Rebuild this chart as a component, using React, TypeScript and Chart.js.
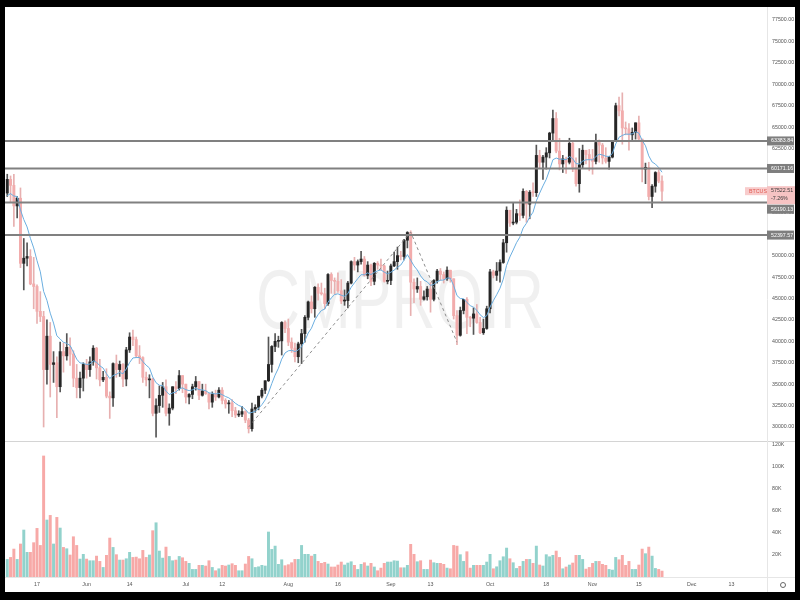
import React, { useEffect, useRef } from 'react';
import { Chart, registerables } from 'chart.js';

Chart.register(...registerables);

// Daily BTCUSD candles, day 0 = 8 May 2021 ... day 198 = 22 Nov 2021
const opens = [
  57300, 58900, 58200, 55800, 56700, 49100, 49700, 49900, 46700, 46400,
  43500, 42900, 36700, 40600, 37300, 37500, 34700, 38800, 38300, 39300,
  38500, 35700, 34600, 35700, 37300, 36700, 37600, 39200, 36900, 35500,
  35800, 33600, 33400, 37400, 36700, 37300, 35600, 39000, 40500, 40200,
  38300, 38100, 35800, 35500, 35600, 31600, 32500, 33700, 34700, 31600,
  32200, 34700, 34500, 36000, 35000, 33500, 33800, 34700, 35300, 33700,
  34200, 33900, 32900, 33800, 33500, 34300, 33100, 32700, 32800, 31900,
  31400, 31500, 31800, 30800, 29800, 32100, 32300, 33600, 34300, 35400,
  37300, 39400, 40000, 40050, 42200, 41500, 39900, 39200, 38200, 39700,
  40900, 42800, 44600, 43800, 46300, 45600, 45550, 44400, 47800, 47100,
  47000, 45900, 44700, 44750, 46800, 49300, 48900, 49300, 49600, 47700,
  48900, 47000, 49100, 48900, 48800, 47000, 47100, 48800, 49300, 50000,
  49900, 51800, 52700, 46900, 46100, 46400, 44900, 45200, 46100, 44900,
  47100, 48200, 47800, 47300, 48300, 47300, 43000, 40700, 43600, 44900,
  42800, 42700, 43200, 42200, 41000, 41500, 43800, 48100, 47700, 48200,
  49200, 51500, 55300, 53800, 53900, 54900, 54700, 57500, 56000, 57400,
  57350, 61700, 60900, 61500, 62000, 64300, 66000, 62200, 60700, 61300,
  60900, 63100, 60300, 58400, 60600, 62300, 61800, 61300, 61000, 63200,
  62900, 61400, 61000, 61500, 63300, 67500, 66900, 64900, 64800, 64100,
  64400, 65500, 63600, 60100, 60300, 56900, 58100, 59700, 58700,
];
const highs = [
  59500, 59300, 59500, 56900, 57900, 52000, 51500, 50700, 49800, 46600,
  45800, 43500, 42500, 42200, 38800, 38200, 39900, 39800, 40900, 40400,
  38900, 37300, 36400, 37500, 37900, 38200, 39500, 39300, 37900, 36500,
  36800, 34100, 37500, 38400, 37700, 37400, 39300, 41000, 41300, 40500,
  39500, 38200, 36400, 36100, 35700, 33300, 34800, 35200, 35500, 32700,
  34700, 35300, 36600, 36000, 35000, 33900, 35000, 35900, 35300, 35000,
  35000, 33900, 34100, 34300, 34600, 34600, 33300, 33100, 33200, 32300,
  31900, 32400, 31900, 31000, 32800, 32600, 33600, 34500, 35400, 40500,
  39500, 40900, 40600, 42300, 42400, 42600, 40400, 39800, 39900, 41400,
  43000, 44700, 45300, 46400, 46700, 46800, 46200, 47900, 48000, 47400,
  48000, 47200, 46000, 47000, 49400, 49800, 49500, 50500, 49900, 49300,
  49000, 49200, 49300, 49600, 48900, 48200, 49000, 50400, 51000, 50500,
  51900, 52800, 52900, 47300, 47400, 47000, 45900, 46400, 46900, 47200,
  48400, 48500, 48100, 48700, 48300, 47300, 43600, 44000, 44900, 45100,
  42900, 43900, 44300, 42800, 42600, 44100, 48400, 48300, 49200, 49500,
  51900, 55700, 55300, 56100, 55400, 56500, 57800, 57600, 57600, 58500,
  62900, 62300, 61700, 62600, 64400, 67000, 66700, 63700, 61700, 61500,
  63700, 63300, 61400, 62500, 62900, 62300, 62400, 62400, 64200, 63500,
  63100, 62600, 61600, 63300, 67800, 68500, 69000, 65600, 65400, 64900,
  65500, 66300, 63600, 60800, 60900, 58300, 59800, 60000, 59300,
];
const lows = [
  56900, 56200, 53400, 54400, 48600, 46000, 48800, 46600, 43800, 42100,
  42300, 30000, 35000, 33500, 35200, 31100, 34100, 36400, 37800, 37200,
  34700, 33400, 33400, 34200, 35700, 35900, 37200, 35600, 34800, 35300,
  33400, 31000, 32400, 35800, 35900, 34700, 34800, 38700, 39500, 38100,
  37400, 35200, 34800, 33400, 31300, 28800, 31700, 32300, 31300, 30200,
  32000, 33900, 34300, 34000, 32800, 32700, 33300, 34300, 33200, 33600,
  33800, 32100, 32300, 33100, 33400, 32700, 32200, 31600, 31200, 31100,
  31200, 31200, 30500, 29300, 29500, 31700, 32000, 33400, 33900, 35300,
  36400, 38800, 39300, 38400, 41000, 39500, 38700, 37600, 37500, 37400,
  39900, 42500, 43300, 42800, 44800, 45400, 43800, 44200, 45600, 45500,
  45700, 44400, 44200, 43900, 46700, 48300, 48100, 49000, 47600, 47300,
  46500, 46600, 48400, 48300, 46900, 46700, 46600, 48700, 48400, 49500,
  49500, 50900, 43000, 44500, 45700, 44200, 44800, 44800, 43400, 44700,
  46800, 47100, 46800, 47100, 46900, 42600, 39600, 40600, 43200, 40900,
  41700, 40800, 42100, 40900, 40800, 41400, 43300, 47400, 47100, 46900,
  49100, 50400, 53400, 53600, 53700, 54100, 54400, 53900, 54300, 56900,
  56900, 60200, 58900, 60100, 61400, 63500, 62000, 60000, 59700, 59600,
  60700, 59800, 58100, 57400, 60200, 60700, 59900, 59500, 60700, 60900,
  60700, 60800, 60100, 61400, 63300, 66300, 63000, 64100, 62300, 63400,
  63600, 63500, 58600, 58400, 56500, 55600, 57400, 58500, 56400,
];
const closes = [
  58900, 58200, 55800, 56700, 49100, 49700, 49900, 46700, 46400, 43500,
  42900, 36700, 40600, 37300, 37500, 34700, 38800, 38300, 39300, 38500,
  35700, 34600, 35700, 37300, 36700, 37600, 39200, 36900, 35500, 35800,
  33600, 33400, 37400, 36700, 37300, 35600, 39000, 40500, 40200, 38300,
  38100, 35800, 35500, 35600, 31600, 32500, 33700, 34700, 31600, 32200,
  34700, 34500, 36000, 35000, 33500, 33800, 34700, 35300, 33700, 34200,
  33900, 32900, 33800, 33500, 34300, 33100, 32700, 32800, 31900, 31400,
  31500, 31800, 30800, 29800, 32100, 32300, 33600, 34300, 35400, 37300,
  39400, 40000, 40050, 42200, 41500, 39900, 39200, 38200, 39700, 40900,
  42800, 44600, 43800, 46300, 45600, 45550, 44400, 47800, 47100, 47000,
  45900, 44700, 44750, 46800, 49300, 48900, 49300, 49600, 47700, 48900,
  47000, 49100, 48900, 48800, 47000, 47100, 48800, 49300, 50000, 49900,
  51800, 52700, 46900, 46100, 46400, 44900, 45200, 46100, 44900, 47100,
  48200, 47800, 47300, 48300, 47300, 43000, 40700, 43600, 44900, 42800,
  42700, 43200, 42200, 41000, 41500, 43800, 48100, 47700, 48200, 49200,
  51500, 55300, 53800, 53900, 54900, 54700, 57500, 56000, 57400, 57350,
  61700, 60900, 61500, 62000, 64300, 66000, 62200, 60700, 61300, 60900,
  63100, 60300, 58400, 60600, 62300, 61800, 61300, 61000, 63200, 62900,
  61400, 61000, 61500, 63300, 67500, 66900, 64900, 64800, 64100, 64400,
  65500, 63600, 60100, 60300, 56900, 58100, 59700, 58700, 57522.51,
];
// Volume in thousands
const volumes = [
  16.0, 17.8, 25.4, 16.0, 30.0, 42.7, 22.4, 22.4, 31.2, 44.2,
  28.7, 110, 51.8, 56.0, 30.0, 54.2, 44.5, 26.9, 25.7, 20.0,
  36.6, 28.7, 16.3, 20.6, 16.3, 14.8, 14.8, 19.0, 14.2, 8.7,
  19.7, 35.4, 26.9, 20.3, 15.4, 15.4, 16.6, 22.4, 17.8, 18.1,
  16.6, 24.2, 17.8, 20.0, 42.1, 49.3, 23.6, 17.2, 27.2, 18.7,
  14.8, 15.4, 18.7, 17.5, 14.2, 12.4, 6.9, 6.9, 10.6, 10.6,
  10.0, 14.8, 8.7, 5.7, 7.5, 10.6, 10.0, 10.9, 12.1, 10.6,
  5.7, 5.7, 11.8, 18.7, 16.6, 8.7, 9.3, 10.6, 10.0, 40.9,
  25.1, 28.1, 11.5, 15.7, 10.3, 11.2, 13.0, 16.0, 16.0, 28.7,
  20.6, 20.6, 19.0, 20.6, 14.2, 12.4, 13.3, 11.8, 9.1, 9.1,
  10.9, 13.6, 10.9, 12.7, 13.9, 10.6, 6.9, 11.5, 13.0, 10.0,
  12.4, 9.1, 5.7, 8.1, 12.4, 13.6, 13.6, 14.8, 14.5,
  8.4, 8.4, 10.6, 29.7, 20.6, 13.9, 14.8, 6.9, 6.9, 15.4,
  13.0, 12.4, 12.4, 11.5, 8.1, 7.5, 28.7, 28.1, 20.3, 14.2,
  23.0, 8.1, 10.6, 10.6, 10.6, 10.6, 13.6, 20.6, 7.5, 9.3,
  14.8, 18.4, 26.3, 16.6, 13.0, 7.8, 9.7, 14.2, 16.0, 16.0,
  12.4, 28.1, 10.9, 10.0, 20.3, 18.4, 19.7, 23.6, 17.8, 7.5,
  9.1, 10.9, 12.7, 19.7, 19.7, 16.0, 7.2, 8.7, 12.4, 14.2,
  14.2, 11.5, 10.6, 6.9, 6.3, 17.8, 15.7, 19.7, 10.6, 14.2,
  6.9, 6.9, 10.9, 25.4, 21.2, 27.2, 19.0, 7.8, 6.9, 5.4,
];

const xTickDays = [9, 24, 37, 54, 65, 85, 100, 116, 128, 146, 163, 177, 191, 207, 219];
const xTickLabels = ['17', 'Jun', '14', 'Jul', '12', 'Aug', '16', 'Sep', '13', 'Oct', '18', 'Nov', '15', 'Dec', '13'];
const priceTicks = [30000, 32500, 35000, 37500, 40000, 42500, 45000, 47500, 50000, 52500, 55000, 57500, 60000, 62500, 65000, 67500, 70000, 72500, 75000, 77500];
const volumeTicks = [20, 40, 60, 80, 100, 120];
const levels = [63383.84, 60171.16, 56190.13, 52397.57];
const swingDays = [73, 122, 136];
const swingPrices = [30000, 52750, 39900];
const MA_PERIOD = 9;
const MA_SEED = 57000;
const SYMBOL = 'BTCUSD';
const LAST_PRICE = 57522.51;
const LAST_CHANGE = '-7.26%';
const WATERMARK = 'CMPROIR';

const X_MIN = -0.68;
const X_MAX = 229.75;
const P_MIN = 28366;
const P_MAX = 79017;
const V_MAX = 123.6;

const FONT = '"Liberation Sans", Arial, sans-serif';
const UP_BODY = '#262626';
const UP_WICK = '#555555';
const DN_BODY = '#f2acac';
const DN_WICK = '#e7b0b0';
const VOL_UP = '#92d2cc';
const VOL_DN = '#f7a9a7';

const days = closes.map((_, i) => i);
const isUp = closes.map((c, i) => c >= opens[i]);

const maValues: number[] = [];
closes.forEach((c, i) => {
  if (i === 0) maValues.push(MA_SEED);
  else {
    const prev = maValues[i - 1];
    maValues.push(prev + (c - prev) * (2 / (MA_PERIOD + 1)));
  }
});

function tag(ctx: any, x: number, top: number, w: number, h: number, bg: string, lines: string[], color: string, lineGap: number) {
  ctx.fillStyle = bg;
  ctx.fillRect(x, top, w, h);
  ctx.fillStyle = color;
  ctx.textBaseline = 'middle';
  ctx.textAlign = 'left';
  lines.forEach((t, i) => ctx.fillText(t, x + 4, top + 4.5 + i * lineGap));
}

const overlay = {
  id: 'overlay',
  beforeDatasetsDraw(chart: any) {
    const { ctx, chartArea } = chart;
    ctx.save();
    ctx.font = '84px ' + FONT;
    const w = ctx.measureText(WATERMARK).width;
    const sx = 288 / w;
    ctx.translate(chartArea.left + 395, 321);
    ctx.scale(sx, 1);
    ctx.fillStyle = 'rgba(0,0,0,0.06)';
    ctx.textAlign = 'center';
    ctx.textBaseline = 'alphabetic';
    ctx.fillText(WATERMARK, 0, 0);
    ctx.restore();
  },
  afterDraw(chart: any) {
    const { ctx, chartArea } = chart;
    const y = chart.scales.y;
    const yv = chart.scales.yv;
    const axisX = chartArea.right;
    ctx.save();
    ctx.strokeStyle = '#d4d4d4';
    ctx.lineWidth = 1;
    ctx.beginPath();
    ctx.moveTo(0, Math.round(yv.top) + 0.5);
    ctx.lineTo(chart.width, Math.round(yv.top) + 0.5);
    ctx.stroke();
    ctx.strokeStyle = '#e6e6e6';
    ctx.beginPath();
    ctx.moveTo(0, chartArea.bottom + 0.5);
    ctx.lineTo(chart.width, chartArea.bottom + 0.5);
    ctx.moveTo(axisX + 0.5, 0);
    ctx.lineTo(axisX + 0.5, chart.height);
    ctx.stroke();

    ctx.font = '5.3px ' + FONT;
    const py = y.getPixelForValue(LAST_PRICE);
    const boxTop = py - 5;
    const boxH = 18;
    tag(ctx, axisX - 22, py - 4, 22, 8, '#f8cccc', [SYMBOL], '#e0584f', 8);
    tag(ctx, axisX, boxTop, 28, boxH, '#f6c3c3', [LAST_PRICE.toFixed(2), LAST_CHANGE], '#3a3a3a', 8);

    levels.forEach((lv) => {
      let ly = y.getPixelForValue(lv);
      const h = 9;
      if (ly + h / 2 > boxTop && ly - h / 2 < boxTop + boxH) ly = boxTop + boxH + h / 2 + 0.5;
      tag(ctx, axisX, ly - h / 2, 27, h, '#7e7e7e', [lv.toFixed(2)], '#ffffff', 8);
    });

    ctx.strokeStyle = '#666';
    ctx.lineWidth = 1;
    ctx.beginPath();
    ctx.arc(axisX + 16, chartArea.bottom + 8, 2.5, 0, Math.PI * 2);
    ctx.stroke();
    ctx.restore();
  },
};

const noPadding = (s: any) => {
  s.paddingTop = 0;
  s.paddingBottom = 0;
  s.paddingLeft = 0;
  s.paddingRight = 0;
};

export default function App() {
  const ref = useRef<HTMLCanvasElement | null>(null);
  useEffect(() => {
    if (!ref.current) return;
    const tickFont = { family: FONT, size: 5.3 };
    const chart = new Chart(ref.current, {
      type: 'bar',
      data: {
        datasets: [
          ...levels.map((lv) => ({
            type: 'line' as const,
            yAxisID: 'y',
            data: [{ x: X_MIN, y: lv }, { x: X_MAX, y: lv }],
            borderColor: '#808080',
            borderWidth: 2,
            pointRadius: 0,
            order: 1,
          })),
          {
            type: 'line' as const,
            yAxisID: 'y',
            data: swingDays.map((d, i) => ({ x: d, y: swingPrices[i] })),
            borderColor: '#8c8c8c',
            borderWidth: 1,
            borderDash: [3, 3],
            pointRadius: 0,
            order: 2,
          },
          {
            type: 'line' as const,
            yAxisID: 'y',
            data: days.map((d) => ({ x: d, y: maValues[d] })),
            borderColor: '#6aaee0',
            borderWidth: 1,
            pointRadius: 0,
            tension: 0,
            order: 3,
          },
          {
            type: 'bar' as const,
            yAxisID: 'y',
            data: days.map((d) => ({ x: d, y: [opens[d], closes[d]] })),
            backgroundColor: isUp.map((u) => (u ? UP_BODY : DN_BODY)),
            borderWidth: 0,
            barThickness: 2.3,
            minBarLength: 1,
            grouped: false,
            order: 4,
          },
          {
            type: 'bar' as const,
            yAxisID: 'y',
            data: days.map((d) => ({ x: d, y: [lows[d], highs[d]] })),
            backgroundColor: isUp.map((u) => (u ? UP_WICK : DN_WICK)),
            borderWidth: 0,
            barThickness: 1,
            grouped: false,
            order: 5,
          },
          {
            type: 'bar' as const,
            yAxisID: 'yv',
            data: days.map((d) => ({ x: d, y: volumes[d] })),
            backgroundColor: isUp.map((u) => (u ? VOL_UP : VOL_DN)),
            borderWidth: 0,
            barThickness: 2.3,
            grouped: false,
            order: 6,
          },
        ] as any,
      },
      options: {
        animation: false,
        responsive: false,
        maintainAspectRatio: false,
        events: [],
        layout: { padding: 0 },
        plugins: { legend: { display: false }, tooltip: { enabled: false } },
        scales: {
          x: {
            type: 'linear',
            min: X_MIN,
            max: X_MAX,
            offset: false,
            bounds: 'data',
            grid: { display: false, drawTicks: false, offset: false },
            border: { display: false },
            ticks: {
              autoSkip: false,
              maxRotation: 0,
              padding: 4,
              color: '#555',
              font: tickFont,
              callback: (v: any) => {
                const i = xTickDays.indexOf(Number(v));
                return i >= 0 ? xTickLabels[i] : '';
              },
            },
            afterBuildTicks: (s: any) => {
              s.ticks = xTickDays.map((v) => ({ value: v }));
            },
            afterFit: (s: any) => {
              s.height = 15;
              noPadding(s);
            },
          },
          y: {
            type: 'linear',
            position: 'right',
            stack: 'panes',
            stackWeight: 434,
            min: P_MIN,
            max: P_MAX,
            bounds: 'data',
            grid: { display: false, drawTicks: false },
            border: { display: false },
            ticks: {
              autoSkip: false,
              padding: 5,
              color: '#555',
              font: tickFont,
              callback: (v: any) => Number(v).toFixed(2),
            },
            afterBuildTicks: (s: any) => {
              s.ticks = priceTicks.map((v) => ({ value: v }));
            },
            afterFit: (s: any) => {
              s.width = 28;
              noPadding(s);
            },
          },
          yv: {
            type: 'linear',
            position: 'right',
            stack: 'panes',
            stackWeight: 136,
            min: 0,
            max: V_MAX,
            bounds: 'data',
            grid: { display: false, drawTicks: false },
            border: { display: false },
            ticks: {
              autoSkip: false,
              padding: 5,
              color: '#555',
              font: tickFont,
              callback: (v: any) => Number(v) + 'K',
            },
            afterBuildTicks: (s: any) => {
              s.ticks = volumeTicks.map((v) => ({ value: v }));
            },
            afterFit: (s: any) => {
              s.width = 28;
              noPadding(s);
            },
          },
        },
      } as any,
      plugins: [overlay],
    });
    return () => chart.destroy();
  }, []);

  return (
    <div style={{ position: 'fixed', left: 0, top: 0, width: 800, height: 600, background: '#000', overflow: 'hidden' }}>
      <canvas
        ref={ref}
        width={790}
        height={585}
        style={{ position: 'absolute', left: 5, top: 7, width: 790, height: 585, background: '#fff' }}
      />
    </div>
  );
}
